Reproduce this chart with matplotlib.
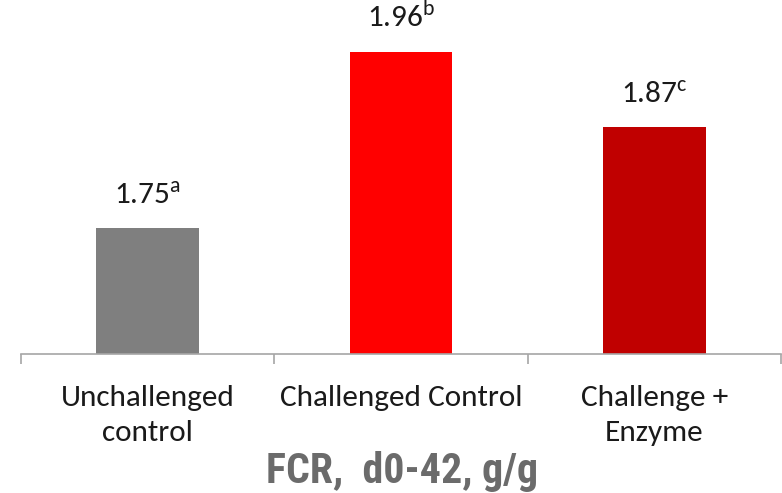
import matplotlib
matplotlib.use("Agg")
import matplotlib.pyplot as plt
from matplotlib import font_manager

categories = ["Unchallenged\ncontrol", "Challenged Control", "Challenge +\nEnzyme"]
fcr_values = [1.75, 1.96, 1.87]
letters = ["a", "b", "c"]
bar_colors = ["#7f7f7f", "#ff0000", "#c00000"]

available = {(f.name, f.weight) for f in font_manager.fontManager.ttflist}
body_font = "Carlito" if any(n == "Carlito" for n, _ in available) else "Liberation Sans"
title_font = "Liberation Sans"
for cand in ["Arial Narrow", "Liberation Sans Narrow", "Roboto Condensed", "Arimo"]:
    if any(n == cand and w in (700, "bold") for n, w in available):
        title_font = cand
        break

plt.rcParams["mathtext.fontset"] = "custom"
plt.rcParams["mathtext.rm"] = body_font
plt.rcParams["font.family"] = [body_font, "DejaVu Sans"]

fig = plt.figure(figsize=(7.82, 4.93), dpi=100)
ax = fig.add_axes([21 / 782, 139 / 493, 760 / 782, 336 / 493])

x = list(range(len(categories)))
ax.bar(x, fcr_values, width=0.405, color=bar_colors, zorder=2)
ax.set_xlim(-0.5, 2.5)
ax.set_ylim(1.6, 2.0)

for xi, v, s in zip(x, fcr_values, letters):
    ax.annotate(f"{v:.2f}" + r"$^{\mathrm{" + s + "}}$", (xi, v),
                xytext=(0, 17), textcoords="offset points",
                ha="center", va="baseline", fontsize=22.5, color="#1a1a1a")

for side in ("top", "right", "left"):
    ax.spines[side].set_visible(False)
ax.spines["bottom"].set_color("#a6a6a6")
ax.spines["bottom"].set_linewidth(1.2)
ax.spines["bottom"].set_clip_on(False)
ax.set_yticks([])

ax.set_xticks(x)
ax.set_xticklabels(categories, fontsize=22.5, color="#1a1a1a", linespacing=1.45)
ax.tick_params(axis="x", which="major", length=0, pad=22)
ax.set_xticks([-0.5, 0.5, 1.5, 2.5], minor=True)
ax.tick_params(axis="x", which="minor", length=7, width=1.2, color="#a6a6a6",
               direction="out")

title = fig.text(401.5 / 782, 10 / 493, "FCR,  d0-42, g/g", ha="center", va="baseline",
                 fontsize=26, fontweight="bold", color="#6b6b6b",
                 family=[title_font, "DejaVu Sans"])
# fit the caption to its intended width
fig.canvas.draw()
w = title.get_window_extent().width
title.set_fontsize(26 * 273 / w)

fig.savefig("out.png", dpi=100)
